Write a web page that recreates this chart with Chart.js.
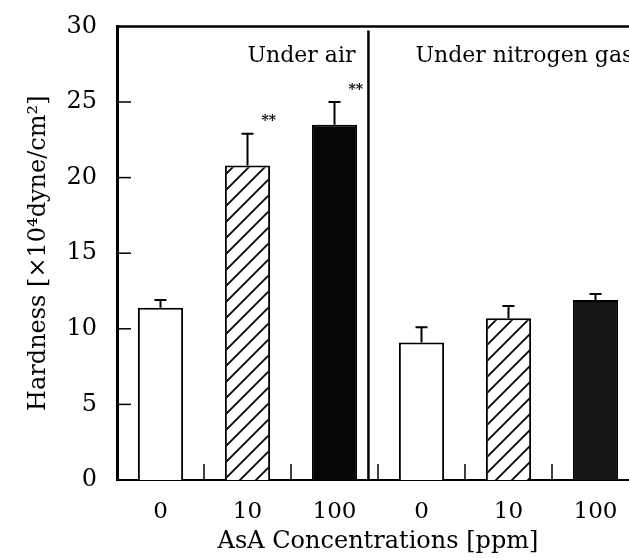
<!DOCTYPE html>
<html>
<head>
<meta charset="utf-8">
<style>
  html, body { margin: 0; padding: 0; background: #fff; overflow: hidden; }
</style>
<script src="https://cdn.jsdelivr.net/npm/chart.js@4"></script>
</head>
<body>
<canvas id="hardnessChart" width="660" height="558"></canvas>
<script>
// AsA concentration (ppm), first three under air, last three under nitrogen gas
const concLabels = ["0", "10", "100", "0", "10", "100"];
const hardness = [11.4, 20.8, 23.5, 9.1, 10.7, 11.9];
const errUp = [0.5, 2.1, 1.5, 1.0, 0.8, 0.4];
const signif = ["", "**", "**", "", "", ""];
const groupNames = ["Under air", "Under nitrogen gas"];

const FONT = "'DejaVu Serif', 'Liberation Serif', serif";

function hatchPattern() {
  const s = 16;
  const p = document.createElement("canvas");
  p.width = s;
  p.height = s;
  const g = p.getContext("2d");
  g.fillStyle = "#fff";
  g.fillRect(0, 0, s, s);
  g.strokeStyle = "#000";
  g.lineWidth = 1.8;
  g.beginPath();
  g.moveTo(-2, s + 2); g.lineTo(s + 2, -2);
  g.moveTo(-2, 2); g.lineTo(2, -2);
  g.moveTo(s - 2, s + 2); g.lineTo(s + 2, s - 2);
  g.stroke();
  return g.createPattern(p, "repeat");
}

const ctx = document.getElementById("hardnessChart").getContext("2d");
const hatch = hatchPattern();
const fills = ["#fff", hatch, "#060606", "#fff", hatch, "#151515"];

const decorations = {
  id: "decorations",
  afterDatasetsDraw(chart) {
    const c = chart.ctx;
    const x = chart.scales.x;
    const y = chart.scales.y;
    const area = chart.chartArea;
    const bars = chart.getDatasetMeta(0).data;
    c.save();
    c.strokeStyle = "#000";
    c.fillStyle = "#000";

    // error bars (upper only) and significance marks
    c.lineWidth = 2;
    bars.forEach((bar, i) => {
      const top = y.getPixelForValue(hardness[i] + errUp[i]);
      c.beginPath();
      c.moveTo(bar.x, bar.y);
      c.lineTo(bar.x, top);
      c.moveTo(bar.x - 6, top);
      c.lineTo(bar.x + 6, top);
      c.stroke();
      if (signif[i]) {
        c.font = "bold 14px " + FONT;
        c.textAlign = "left";
        c.textBaseline = "middle";
        c.fillText(signif[i], bar.x + 14, top - 12);
      }
    });

    // inward ticks on the y axis
    c.lineWidth = 1.5;
    y.ticks.forEach(t => {
      const py = y.getPixelForValue(t.value);
      if (t.value === 0 || t.value === 30) return;
      c.beginPath();
      c.moveTo(area.left, py);
      c.lineTo(area.left + 14, py);
      c.stroke();
    });

    // short upward ticks between categories
    for (let i = 0; i < concLabels.length - 1; i++) {
      const px = (x.getPixelForValue(i) + x.getPixelForValue(i + 1)) / 2;
      c.beginPath();
      c.moveTo(px, area.bottom);
      c.lineTo(px, area.bottom - 16);
      c.stroke();
    }

    // top frame line
    c.lineWidth = 2.5;
    c.beginPath();
    c.moveTo(area.left, area.top);
    c.lineTo(area.right, area.top);
    c.stroke();

    // divider between the two atmospheres
    const x2 = x.getPixelForValue(2);
    const divX = x2 + 0.39 * (x.getPixelForValue(3) - x2);
    c.lineWidth = 2.5;
    c.beginPath();
    c.moveTo(divX, area.top + 4);
    c.lineTo(divX, area.bottom);
    c.stroke();

    c.font = "22px " + FONT;
    c.textBaseline = "alphabetic";
    c.textAlign = "right";
    c.fillText(groupNames[0], divX - 13, area.top + 36);
    c.textAlign = "left";
    c.fillText(groupNames[1], divX + 47, area.top + 36);
    c.restore();
  }
};

new Chart(ctx, {
  type: "bar",
  data: {
    labels: concLabels,
    datasets: [
      {
        data: hardness,
        backgroundColor: fills,
        borderColor: "#000",
        borderWidth: 2,
        borderSkipped: "bottom",
        categoryPercentage: 1,
        barPercentage: 0.52
      }
    ]
  },
  options: {
    responsive: false,
    animation: false,
    layout: {
      padding: { left: 0, top: 13, right: 21, bottom: 0 }
    },
    plugins: {
      legend: { display: false },
      tooltip: { enabled: false }
    },
    scales: {
      x: {
        grid: { display: false },
        border: { display: true, color: "#000", width: 2 },
        ticks: {
          color: "#000",
          padding: 10,
          font: { family: FONT, size: 23 }
        },
        title: {
          display: true,
          text: "AsA Concentrations [ppm]",
          color: "#000",
          font: { family: FONT, size: 24 },
          padding: { top: 0, bottom: 2 }
        },
        afterFit(scale) {
          scale.height = 78;
        }
      },
      y: {
        min: 0,
        max: 30,
        grid: { display: false },
        border: { display: true, color: "#000", width: 3 },
        ticks: {
          stepSize: 5,
          color: "#000",
          padding: 12,
          font: { family: FONT, size: 24 }
        },
        title: {
          display: true,
          text: "Hardness [×10⁴dyne/cm²]",
          color: "#000",
          font: { family: FONT, size: 24 },
          padding: { top: 24, bottom: 0 }
        },
        afterFit(scale) {
          scale.width = 117;
        }
      }
    }
  },
  plugins: [decorations]
});
</script>
</body>
</html>
